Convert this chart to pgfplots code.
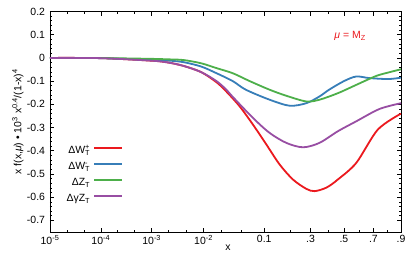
\documentclass[border=0pt]{standalone}
\usepackage{pgfplots}
\pgfplotsset{compat=1.18}
\usepackage{fontspec}
\setmainfont{Liberation Sans}
\definecolor{cred}{RGB}{235,25,30}
\definecolor{cblue}{RGB}{55,126,184}
\definecolor{cgreen}{RGB}{77,175,74}
\definecolor{cpurple}{RGB}{152,78,163}
\begin{document}
\begin{tikzpicture}
\begin{axis}[
 scale only axis, width=351bp, height=220.5bp,
 x coord trafo/.code={\begingroup\pgfkeys{/pgf/fpu=true,/pgf/fpu/output format=fixed}\pgfmathparse{ln(#1)+5*(#1)}\global\let\gtrafo\pgfmathresult\endgroup\let\pgfmathresult\gtrafo},
 xmin=1e-5, xmax=0.9, ymin=-0.75, ymax=0.2,
 enlargelimits=false,
 xtick={1e-5,1e-4,1e-3,1e-2,0.1,0.3,0.5,0.7,0.9},
 xticklabels={10\textsuperscript{-5},10\textsuperscript{-4},10\textsuperscript{-3},10\textsuperscript{-2},0.1,.3,.5,.7,.9},
 minor xtick={2.154e-5,4.642e-5,2.154e-4,4.642e-4,2.154e-3,4.642e-3,2.154e-2,4.642e-2,0.2,0.4,0.6,0.8},
 ytick={-0.7,-0.6,-0.5,-0.4,-0.3,-0.2,-0.1,0,0.1,0.2},
 yticklabels={-0.7,-0.6,-0.5,-0.4,-0.3,-0.2,-0.1,0,0.1,0.2},
 minor y tick num=4,
 tick align=inside, major tick length=4bp, minor tick length=2bp,
 tick style={black, line width=0.6bp},
 axis line style={black, line width=0.9bp},
 tick label style={font=\fontsize{10.5}{12}\selectfont},
 yticklabel style={xshift=-1.5bp},
 xlabel={x}, xlabel style={font=\fontsize{10.5}{12}\selectfont, at={(axis description cs:0.507,-0.072)}, anchor=center},
 ylabel={x f(x,\textit{μ}) • 10\textsuperscript{3} x\textsuperscript{0.4}/(1-x)\textsuperscript{4}},
 ylabel style={font=\fontsize{10.5}{12}\selectfont, at={(axis description cs:-0.0912,0.5)}, anchor=center},
 legend plot pos=right,
 legend cell align=right,
 legend style={at={(rel axis cs:0.209,0.397)}, anchor=north east, draw=none, fill=none,
   font=\fontsize{10.5}{12}\selectfont, inner sep=0pt, row sep=4bp,
   nodes={inner sep=0pt, text height=9bp, text depth=3bp}, column sep=3bp},
 legend image code/.code={\draw[#1, line width=2bp] (0bp,3bp) -- (28bp,3bp);},
]
\addplot[cred, line width=1.8bp, smooth] coordinates {
(1e-5,0) (1e-4,-0.001) (1e-3,-0.012) (0.002,-0.019) (0.0041,-0.034) (0.009,-0.061)
(0.0174,-0.105) (0.026,-0.145) (0.0436,-0.209) (0.07,-0.288) (0.1065,-0.373)
(0.1535,-0.459) (0.211,-0.524) (0.277,-0.564) (0.322,-0.574) (0.39,-0.559)
(0.461,-0.524) (0.582,-0.452) (0.731,-0.309) (0.9,-0.240)};
\addlegendentry{ΔW\rlap{\textsuperscript{+}}\textsubscript{T}}
\addplot[cblue, line width=1.8bp, smooth] coordinates {
(1e-5,0) (1e-4,-0.001) (1e-3,-0.009) (0.002,-0.011) (0.0041,-0.018) (0.009,-0.037)
(0.0174,-0.066) (0.0335,-0.10) (0.0545,-0.137) (0.117,-0.180) (0.196,-0.206)
(0.277,-0.195) (0.35,-0.166) (0.407,-0.137) (0.5,-0.10) (0.582,-0.080)
(0.673,-0.087) (0.81,-0.091) (0.9,-0.085)};
\addlegendentry{ΔW\rlap{\textsuperscript{-}}\textsubscript{T}}
\addplot[cgreen, line width=1.8bp, smooth] coordinates {
(1e-5,0) (1e-4,-0.0005) (1e-3,-0.004) (0.002,-0.006) (0.0041,-0.009) (0.009,-0.023)
(0.0174,-0.044) (0.0335,-0.066) (0.0625,-0.10) (0.117,-0.137) (0.181,-0.163)
(0.277,-0.1875) (0.35,-0.18) (0.461,-0.152) (0.582,-0.116) (0.673,-0.090)
(0.743,-0.073) (0.9,-0.049)};
\addlegendentry{ΔZ\textsubscript{T}}
\addplot[cpurple, line width=1.8bp, smooth] coordinates {
(1e-5,0) (1e-4,-0.001) (1e-3,-0.012) (0.002,-0.019) (0.0041,-0.034) (0.009,-0.061)
(0.0174,-0.10) (0.026,-0.137) (0.0335,-0.168) (0.07,-0.259) (0.117,-0.323)
(0.181,-0.366) (0.26,-0.385) (0.35,-0.366) (0.461,-0.316) (0.582,-0.273)
(0.743,-0.22) (0.9,-0.195)};
\addlegendentry{ΔγZ\textsubscript{T}}
\node[text=cred, font=\fontsize{10.5}{12}\selectfont] at (rel axis cs:0.855,0.889) {\textit{μ} = M\textsubscript{Z}};
\end{axis}
\pgfresetboundingbox
\path (current axis.south west) ++(-50bp,-23bp) rectangle ++(409bp,255bp);
\end{tikzpicture}
\end{document}
